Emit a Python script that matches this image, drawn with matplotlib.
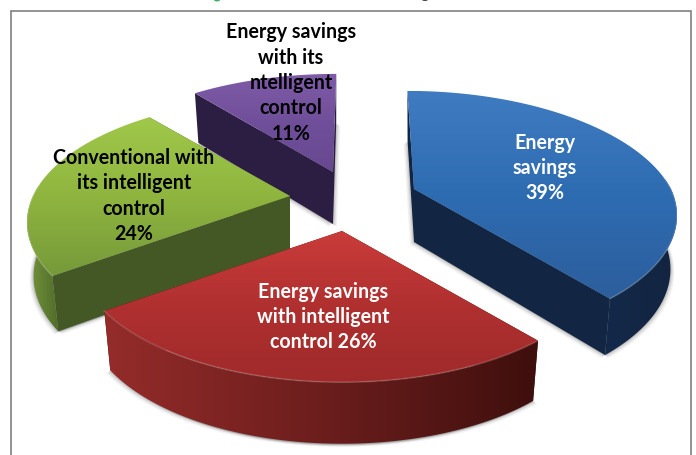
import numpy as np
import matplotlib
matplotlib.use('Agg')
import matplotlib.pyplot as plt
from matplotlib.colors import LinearSegmentedColormap
from matplotlib.patches import Ellipse, Polygon, Rectangle

# 数据
labels = ['Energy\nsavings\n39%',
          'Energy savings\nwith intelligent\ncontrol 26%',
          'Conventional with\nits intelligent\ncontrol\n24%',
          'Energy savings\nwith its\nntelligent\ncontrol\n11%']
values = [39, 26, 24, 11]

# 每块的位置和颜色
apex = [(414, 190), (342, 232), (290, 197), (333, 173)]
depth = [53, 57, 53, 52]
lean = [8, 0, 0, -4]
top_cols = [('#3f7bc0', '#2e6cb2', '#2c5e9c'), ('#ca3c3a', '#b03030', '#a02a2a'),
            ('#a0c84a', '#8fb53f', '#76993a'), ('#7f5ba8', '#704f9a', '#664890')]
arc_cols = [('#14294a', '#12243f'), ('#942c2a', '#6c1e1d', '#3e0f0d'),
            ('#74963e', '#506b28'), ('#3a2a55', '#2a1c40')]
cut_cols = ['#122644', '#3c0e0c', '#445826', '#2c1e42']
text_cols = ['white', 'white', 'black', 'black']
text_pos = [(545, 168), (323, 317), (134, 196), (291, 83)]
draw_order = [3, 2, 0, 1]

# 透视参数
a, b, k = 257, 119, 0.213
bottom_sx, bottom_sy = 0.975, 1.03

plt.rcParams['font.family'] = ['Lato', 'DejaVu Sans']


def project(theta, lean_x):
    u = np.sin(theta)
    v = -np.cos(theta)
    d = 1 - k * v
    return (a * u + lean_x * np.minimum(v, 0)) / d, b * v / d


def gradient(pts, cols, axis, name):
    # 用 imshow 画渐变，再用多边形裁剪
    cmap = LinearSegmentedColormap.from_list(name, cols)
    poly = Polygon(pts, fc='none', ec='none')
    ax.add_patch(poly)
    g = np.linspace(0, 1, 256)
    g = g.reshape(-1, 1) if axis == 'y' else g.reshape(1, -1)
    im = ax.imshow(g, cmap=cmap, aspect='auto',
                   extent=(pts[:, 0].min(), pts[:, 0].max(), pts[:, 1].max(), pts[:, 1].min()),
                   zorder=poly.get_zorder())
    im.set_clip_path(poly)


# 每块的起止角度，顺时针，从12点开始
fracs = np.array(values) / sum(values) * 2 * np.pi
ends = np.cumsum(fracs)
starts = ends - fracs

fig = plt.figure(figsize=(6.96, 4.56), dpi=100)
ax = fig.add_axes([0, 0, 1, 1])
ax.axis('off')

ax.add_patch(Rectangle((10.5, 12), 680, 460, fc='white', ec='#808080', lw=1.2))

for i in draw_order:
    ax_x, ax_y = apex[i]
    th = np.linspace(starts[i], ends[i], 120)
    px, py = project(th, lean[i])
    top = np.column_stack([np.r_[ax_x, ax_x + px], np.r_[ax_y, ax_y + py]])
    bx = ax_x + bottom_sx * px
    by = ax_y + depth[i] + bottom_sy * py
    bottom = np.column_stack([np.r_[ax_x, bx], np.r_[ax_y + depth[i], by]])

    # 阴影
    for off, al in [(4, 0.08), (2.5, 0.12), (1.2, 0.18)]:
        for dx in [-off, off]:
            ax.add_patch(Polygon(bottom + [dx, off * 0.7], fc='#555555', ec='none', alpha=al))

    # 两个切面
    for j in [1, -1]:
        face = [top[0], top[j], bottom[j], bottom[0]]
        ax.add_patch(Polygon(face, fc=cut_cols[i], ec='none'))

    # 外侧弧面，只画朝前的部分
    front = np.cos(th) < 0.1
    if front.sum() > 1:
        side = np.vstack([top[1:][front], bottom[1:][front][::-1]])
        gradient(side, arc_cols[i], 'x', 'a%d' % i)

    # 顶面
    gradient(top, top_cols[i], 'y', 't%d' % i)
    ax.plot(top[1:, 0][front], top[1:, 1][front], color='white', alpha=0.16, lw=1.2)

for i in range(len(labels)):
    ax.text(text_pos[i][0], text_pos[i][1], labels[i], color=text_cols[i], ha='center', va='center',
            fontsize=14.1, fontweight='bold', linespacing=1.34, zorder=10)

# 上方被裁掉的标题，只露出一点字母下缘
ax.add_patch(Ellipse((217, 0), 7, 5, fc='#3fae6a', ec='none'))
ax.add_patch(Ellipse((425, 0), 7, 4, fc='#444444', ec='none'))

ax.set_xlim(0, 696)
ax.set_ylim(456, 0)
fig.savefig('out.png', dpi=100)
